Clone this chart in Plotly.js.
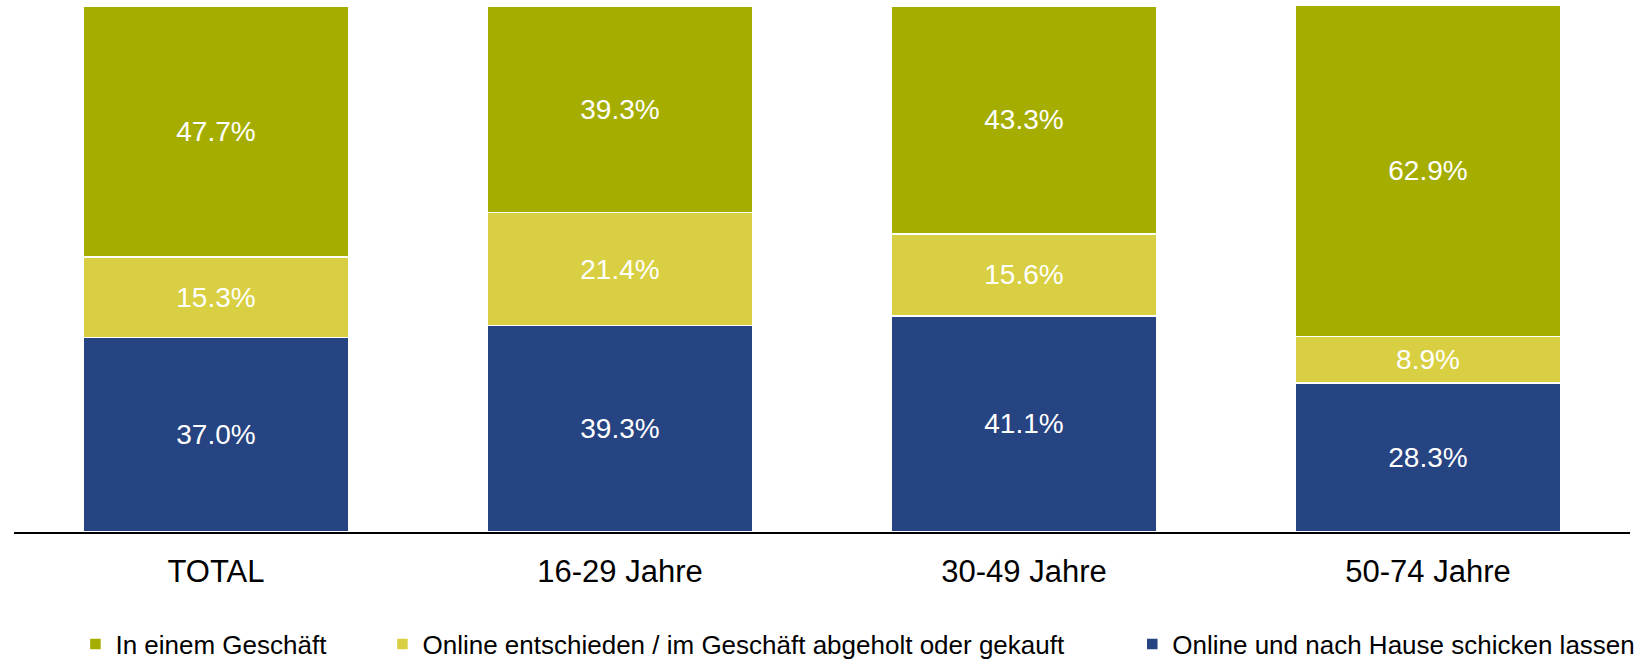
<!DOCTYPE html>
<html>
<head>
<meta charset="utf-8">
<script src="https://cdn.plot.ly/plotly-3.0.1.min.js"></script>
<style>
  body { margin: 0; background: #fff; }
  #plot { width: 1651px; height: 664px; }
</style>
</head>
<body>
<div id="plot"></div>
<script>
// categories and series (percent)
const groups = ["TOTAL", "16-29 Jahre", "30-49 Jahre", "50-74 Jahre"];
const homeDelivery = [37.0, 39.3, 41.1, 28.3];
const pickupInStore = [15.3, 21.4, 15.6, 8.9];
const inStore = [47.7, 39.3, 43.3, 62.9];

const font = "Liberation Sans, Arial, sans-serif";

// one trace per series, stacked bottom to top
const makeTrace = (name, values, color, legendId) => ({
  x: groups,
  y: values,
  name: name,
  type: "bar",
  legend: legendId,
  marker: {
    color: color,
    line: { color: "#ffffff", width: 1.5 }
  },
  texttemplate: "%{y:.1f}%",
  textposition: "inside",
  insidetextanchor: "middle",
  textangle: 0,
  textfont: { color: "#ffffff", size: 28, family: font },
  hoverinfo: "x+y+name"
});

const traceData = [
  makeTrace("Online und nach Hause schicken lassen", homeDelivery, "#264382", "legend3"),
  makeTrace("Online entschieden / im Geschäft abgeholt oder gekauft", pickupInStore, "#D9CF42", "legend2"),
  makeTrace("In einem Geschäft", inStore, "#A5AE00", "legend")
];

// each legend entry placed on its own, like the original
const legendBase = {
  orientation: "h",
  yref: "container",
  yanchor: "middle",
  xanchor: "left",
  y: 0.03,
  font: { size: 26, family: font, color: "#000000" },
  bgcolor: "rgba(0,0,0,0)",
  itemclick: false
};

const layout = {
  width: 1651,
  height: 664,
  barmode: "stack",
  bargap: 0.342,
  paper_bgcolor: "#ffffff",
  plot_bgcolor: "#ffffff",
  font: { family: font, color: "#000000" },
  margin: { l: 14, r: 21, t: 6, b: 132, autoexpand: false },
  showlegend: true,
  legend: Object.assign({}, legendBase, { x: 0.038 }),
  legend2: Object.assign({}, legendBase, { x: 0.228 }),
  legend3: Object.assign({}, legendBase, { x: 0.692 }),
  xaxis: {
    showline: true,
    linecolor: "#000000",
    linewidth: 1.5,
    ticks: "",
    tickfont: { size: 31, family: font, color: "#000000" },
    ticklabelstandoff: 11,
    fixedrange: true
  },
  yaxis: {
    range: [0, 100],
    visible: false,
    showgrid: false,
    zeroline: false,
    fixedrange: true
  }
};

Plotly.newPlot("plot", traceData, layout, { displayModeBar: false, staticPlot: true });
</script>
</body>
</html>
